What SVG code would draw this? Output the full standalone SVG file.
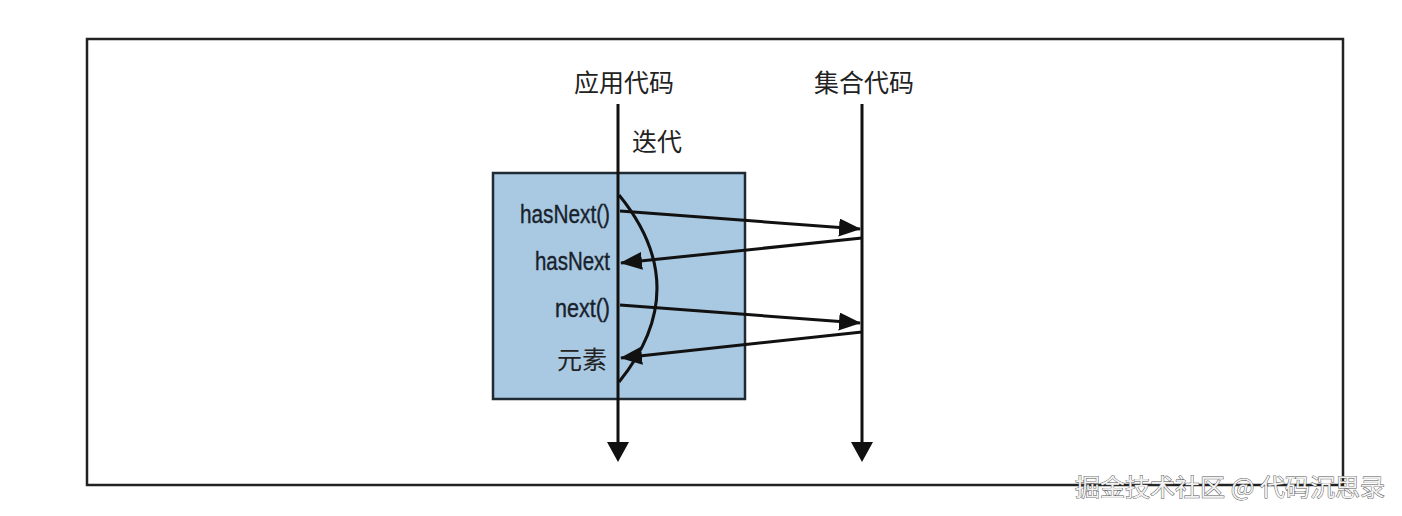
<svg xmlns="http://www.w3.org/2000/svg" width="1402" height="516" viewBox="0 0 1402 516">
<style>
.ln{stroke:#111;stroke-width:3;fill:none}
.lbl{font-family:"Liberation Sans","Noto Sans CJK SC",sans-serif;font-size:26px;fill:#17222c;stroke:#17222c;stroke-width:0.4}
.cjk{font-family:"Noto Sans CJK SC",sans-serif;font-size:25px;fill:#222}
.wm{font-family:"Noto Sans CJK SC",sans-serif;font-size:24px;fill:#f2f2f2;stroke:#555;stroke-width:0.9;paint-order:stroke}
</style>
<defs>
<marker id="ah" markerUnits="userSpaceOnUse" markerWidth="24" markerHeight="20" refX="21" refY="9" orient="auto">
<path d="M0,0 L22,9 L0,18 Z" fill="#111"/>
</marker>
</defs>
<rect width="1402" height="516" fill="#fff"/>
<rect x="87" y="39" width="1256" height="446" fill="none" stroke="#222" stroke-width="2.5"/>
<g id="iterator-box">
<rect x="493" y="173" width="252" height="226" fill="#a9c8e1" stroke="#1f2a33" stroke-width="2.5"/>
</g>
<g id="app-code">
<text class="cjk" x="624" y="92" text-anchor="middle">应用代码</text>
<text class="cjk" x="632" y="151">迭代</text>
</g>
<g id="collection-code">
<text class="cjk" x="864" y="92" text-anchor="middle">集合代码</text>
</g>
<g id="labels">
<text class="lbl" x="610" y="223" text-anchor="end" textLength="90" lengthAdjust="spacingAndGlyphs">hasNext()</text>
<text class="lbl" x="610" y="270" text-anchor="end" textLength="75" lengthAdjust="spacingAndGlyphs">hasNext</text>
<text class="lbl" x="610" y="317" text-anchor="end" textLength="55" lengthAdjust="spacingAndGlyphs">next()</text>
<text class="cjk" x="607" y="369" text-anchor="end">元素</text>
</g>
<g id="connectors">
<line class="ln" x1="618" y1="104" x2="618" y2="446"/>
<polygon points="607,442 629,442 618,462" fill="#111"/>
<line class="ln" x1="862" y1="104" x2="862" y2="446"/>
<polygon points="851,442 873,442 862,462" fill="#111"/>
<line class="ln" x1="620" y1="211" x2="860" y2="229" marker-end="url(#ah)"/>
<line class="ln" x1="862" y1="238" x2="621" y2="263" marker-end="url(#ah)"/>
<line class="ln" x1="620" y1="305" x2="860" y2="323" marker-end="url(#ah)"/>
<line class="ln" x1="862" y1="332" x2="621" y2="358" marker-end="url(#ah)"/>
<path class="ln" d="M619,195 Q695,288 619,382"/>
</g>
<text class="wm" x="1075" y="496" textLength="310" lengthAdjust="spacingAndGlyphs">掘金技术社区 @ 代码沉思录</text>
</svg>
